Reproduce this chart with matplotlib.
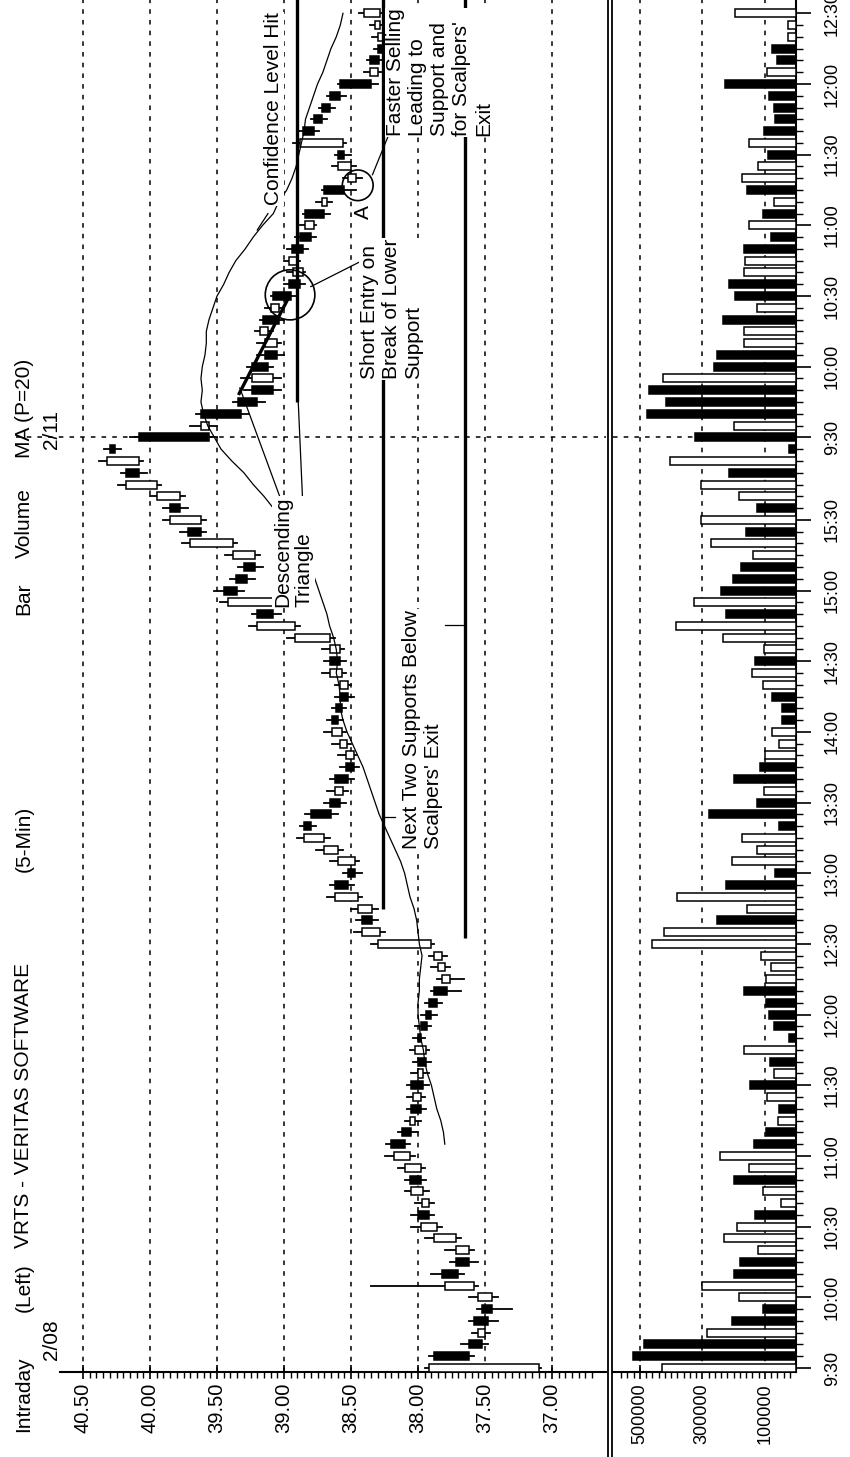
import matplotlib.pyplot as plt
from matplotlib.lines import Line2D
from matplotlib.patches import Rectangle, Ellipse

plt.rcParams['font.family'] = ['Liberation Sans Narrow', 'Liberation Sans', 'DejaVu Sans']

# VRTS 5-min bars: 2/08 (79 bars) then 2/11 (37 bars); H = up (hollow), F = down (filled)
direction = ("HFFHFFHHFF" "HHHFHHFHHF" "FHFHFHFHFF" "FFFHHHHHFH" "HFFHHHFFFH"
             "FFHHHFFFHH" "FHHHFHFFFH" "HFHFHHFHF"
             "FHFFFHFFHH" "FHFFHHFFHF" "HFHHFHFFFF" "FHFFHHH")

volume_k = [428, 521, 487, 284, 205, 107, 184, 300, 200, 179,
            123, 230, 189, 130, 48, 107, 200, 152, 243, 136,
            96, 59, 54, 93, 147, 70, 83, 168, 21, 70,
            86, 96, 168, 96, 80, 112, 462, 423, 254, 157,
            380, 223, 66, 206, 125, 173, 56, 280, 125, 104,
            200, 114, 98, 56, 77, 46, 46, 77, 107, 141,
            130, 104, 233, 385, 225, 326, 241, 201, 177, 139,
            273, 160, 305, 126, 182, 305, 214, 403, 21,
            324, 198, 476, 415, 471, 425, 264, 254, 168, 168,
            235, 126, 195, 214, 166, 163, 168, 80, 150, 107,
            70, 157, 173, 123, 91, 152, 104, 66, 72, 88,
            227, 93, 61, 77, 27, 27, 195]

opens = [37.10, 37.88, 37.62, 37.50, 37.58, 37.52, 37.45, 37.58, 37.82, 37.72,
         37.62, 37.72, 37.86, 38.00, 37.92, 37.96, 38.06, 37.98, 38.06, 38.20,
         38.12, 38.02, 38.05, 37.98, 38.05, 37.96, 38.00, 37.94, 38.00, 37.98,
         37.94, 37.92, 37.88, 37.76, 37.80, 37.82, 37.90, 38.28, 38.42, 38.34,
         38.45, 38.62, 38.52, 38.47, 38.60, 38.70, 38.85, 38.80, 38.66, 38.56,
         38.62, 38.54, 38.48, 38.53, 38.57, 38.64, 38.61, 38.58, 38.52, 38.57,
         38.66, 38.58, 38.66, 38.92, 39.20, 39.08, 39.45, 39.36, 39.30, 39.22,
         39.38, 39.72, 39.62, 39.85, 39.78, 39.95, 40.18, 40.08, 40.30,
         40.08, 39.56, 39.62, 39.34, 39.24, 39.08, 39.24, 39.14, 39.05, 39.12,
         39.16, 39.04, 39.08, 38.96, 38.86, 38.90, 38.94, 38.88, 38.78, 38.84,
         38.68, 38.70, 38.46, 38.50, 38.60, 38.56, 38.86, 38.78, 38.72, 38.66,
         38.58, 38.30, 38.36, 38.30, 38.26, 38.28, 38.28]
highs = [37.95, 37.92, 37.68, 37.60, 37.62, 37.56, 37.62, 38.35, 37.90, 37.76,
         37.80, 37.95, 38.05, 38.05, 38.02, 38.10, 38.10, 38.15, 38.25, 38.24,
         38.15, 38.10, 38.08, 38.08, 38.08, 38.05, 38.04, 38.06, 38.04, 38.02,
         37.98, 37.95, 37.90, 37.86, 37.90, 37.92, 38.35, 38.48, 38.46, 38.50,
         38.68, 38.66, 38.56, 38.66, 38.76, 38.90, 38.88, 38.84, 38.70, 38.68,
         38.66, 38.58, 38.60, 38.64, 38.70, 38.68, 38.64, 38.62, 38.62, 38.72,
         38.70, 38.72, 38.98, 39.26, 39.24, 39.48, 39.52, 39.40, 39.34, 39.44,
         39.76, 39.78, 39.90, 39.90, 40.00, 40.24, 40.22, 40.38, 40.34,
         40.15, 39.70, 39.66, 39.38, 39.30, 39.32, 39.28, 39.20, 39.20, 39.22,
         39.18, 39.14, 39.10, 39.00, 38.98, 39.00, 38.98, 38.92, 38.88, 38.86,
         38.76, 38.72, 38.56, 38.64, 38.62, 38.93, 38.90, 38.80, 38.74, 38.68,
         38.60, 38.40, 38.38, 38.33, 38.34, 38.36, 38.44]
lows = [37.08, 37.58, 37.48, 37.46, 37.40, 37.30, 37.40, 37.55, 37.66, 37.55,
        37.58, 37.68, 37.82, 37.88, 37.88, 37.92, 37.94, 37.95, 38.02, 38.06,
        38.00, 37.98, 37.94, 37.95, 37.92, 37.92, 37.90, 37.92, 37.95, 37.90,
        37.86, 37.82, 37.68, 37.66, 37.76, 37.78, 37.88, 38.25, 38.30, 38.30,
        38.42, 38.48, 38.42, 38.44, 38.56, 38.66, 38.76, 38.60, 38.54, 38.52,
        38.48, 38.44, 38.46, 38.50, 38.54, 38.56, 38.54, 38.48, 38.50, 38.54,
        38.54, 38.55, 38.62, 38.88, 39.02, 39.05, 39.30, 39.22, 39.16, 39.18,
        39.35, 39.58, 39.58, 39.72, 39.74, 39.92, 40.02, 40.05, 40.22,
        39.50, 39.50, 39.26, 39.14, 39.02, 39.02, 39.08, 39.00, 39.02, 39.08,
        39.00, 39.00, 38.90, 38.84, 38.84, 38.88, 38.82, 38.76, 38.76, 38.66,
        38.64, 38.46, 38.42, 38.46, 38.50, 38.54, 38.74, 38.68, 38.62, 38.54,
        38.30, 38.27, 38.25, 38.22, 38.24, 38.26, 38.26]
closes = [37.92, 37.62, 37.52, 37.55, 37.48, 37.45, 37.55, 37.80, 37.70, 37.62,
          37.72, 37.88, 37.98, 37.92, 37.97, 38.05, 37.98, 38.10, 38.18, 38.10,
          38.05, 38.06, 37.98, 38.04, 37.96, 38.00, 37.94, 38.02, 37.98, 37.93,
          37.90, 37.86, 37.78, 37.82, 37.85, 37.88, 38.30, 38.42, 38.34, 38.45,
          38.62, 38.52, 38.47, 38.60, 38.70, 38.85, 38.80, 38.65, 38.58, 38.62,
          38.52, 38.48, 38.54, 38.58, 38.64, 38.60, 38.57, 38.52, 38.58, 38.66,
          38.58, 38.66, 38.92, 39.20, 39.08, 39.42, 39.35, 39.28, 39.22, 39.38,
          39.70, 39.62, 39.85, 39.78, 39.95, 40.18, 40.08, 40.32, 40.26,
          39.56, 39.62, 39.32, 39.20, 39.08, 39.24, 39.12, 39.05, 39.14, 39.18,
          39.04, 39.10, 38.95, 38.88, 38.93, 38.96, 38.86, 38.80, 38.84, 38.70,
          38.72, 38.55, 38.52, 38.60, 38.55, 38.88, 38.78, 38.72, 38.66, 38.58,
          38.35, 38.36, 38.29, 38.27, 38.30, 38.32, 38.40]

# MA (P=20) as drawn, from bar 19 on
ma_start = 19
ma_values = [37.80, 37.81, 37.83, 37.86, 37.88, 37.90, 37.93, 37.95, 37.96, 37.98,
             37.99, 38.00, 38.00, 37.99, 37.99, 37.98, 37.97, 37.99, 38.00, 38.01,
             38.03, 38.06, 38.08, 38.10, 38.13, 38.17, 38.21, 38.25, 38.29, 38.32,
             38.35, 38.38, 38.41, 38.45, 38.49, 38.53, 38.56, 38.58, 38.58, 38.59,
             38.61, 38.60, 38.61, 38.63, 38.66, 38.68, 38.71, 38.74, 38.77, 38.80,
             38.84, 38.90, 38.96, 39.02, 39.08, 39.15, 39.23, 39.30, 39.39, 39.47,
             39.52, 39.57, 39.60, 39.62, 39.61, 39.62, 39.61, 39.59, 39.58, 39.58,
             39.56, 39.53, 39.50, 39.45, 39.41, 39.36, 39.29, 39.23, 39.16, 39.08,
             39.04, 38.98, 38.94, 38.91, 38.89, 38.87, 38.85, 38.84, 38.81, 38.78,
             38.75, 38.71, 38.68, 38.65, 38.61, 38.58, 38.56]

# drawn support / trend lines: (price_start, bar_start, price_end, bar_end)
lower_support = (38.90, 82, 38.90, 116.2)
triangle_top = (39.34, 82.6, 38.96, 91.0)
support_1 = (38.26, 39, 38.26, 116.2)
support_2 = (37.65, 36.5, 37.65, 116.2)

price_ticks = [40.5, 40.0, 39.5, 39.0, 38.5, 38.0, 37.5, 37.0]
vol_ticks = [500000, 300000, 100000]
time_labels = ["9:30", "10:00", "10:30", "11:00", "11:30", "12:00", "12:30", "13:00",
               "13:30", "14:00", "14:30", "15:00", "15:30",
               "9:30", "10:00", "10:30", "11:00", "11:30", "12:00", "12:30"]
n_day1 = 79

W, H = 850, 1457


def fx(x):
    return x / W


def fy(y):
    return 1 - y / H


fig = plt.figure(figsize=(8.5, 14.57), dpi=100)
ax = fig.add_axes([fx(60), fy(1372), (606 - 60) / W, 1372 / H])
axv = fig.add_axes([fx(613), fy(1372), (796 - 613) / W, 1372 / H])

ax.set_xlim(40.672, 36.597)
ax.set_ylim(-0.34, 116.13)
axv.set_xlim(585600, 0)
axv.set_ylim(-0.34, 116.13)

dash = (0, (3, 4))
for p in price_ticks:
    ax.axvline(p, color="k", lw=1.1, ls=dash, zorder=0)
for v in vol_ticks:
    axv.axvline(v, color="k", lw=1.1, ls=dash, zorder=0)
ax.plot([41.0, 36.6], [n_day1, n_day1], color="k", lw=1.1, ls=dash, clip_on=False, zorder=0)
axv.axhline(n_day1, color="k", lw=1.1, ls=dash, zorder=0)

# candles and volume bars
for i, (o, h, l, c, d, v) in enumerate(zip(opens, highs, lows, closes, direction, volume_k)):
    fc = "white" if d == "H" else "black"
    ax.plot([l, h], [i, i], color="k", lw=1.3, zorder=2)
    ax.add_patch(Rectangle((min(o, c), i - 0.34), abs(c - o), 0.68,
                           facecolor=fc, edgecolor="k", lw=1.1, zorder=3))
    axv.add_patch(Rectangle((0, i - 0.34), v * 1000, 0.68,
                            facecolor=fc, edgecolor="k", lw=1.1, zorder=3))

# moving average
ax.plot(ma_values, range(ma_start, ma_start + len(ma_values)), color="k", lw=0.9, zorder=4)

# thick support and trend lines
for p0, b0, p1, b1 in (lower_support, triangle_top, support_1, support_2):
    ax.plot([p0, p1], [b0, b1], color="k", lw=2.4, solid_capstyle="butt", zorder=5)

# circles
ax.add_patch(Ellipse((38.955, 91.1), 0.37, 4.25, fill=False, edgecolor="k", lw=1.2, zorder=6))
ax.add_patch(Ellipse((38.45, 100.4), 0.23, 2.6, fill=False, edgecolor="k", lw=1.2, zorder=6))

# thin leader lines
leaders = [((39.01, 73.3), (39.33, 83.2)),
           ((38.86, 73.3), (38.90, 83.6)),
           ((38.40, 94.1), (38.80, 91.8)),
           ((39.12, 98.0), (39.20, 96.6)),
           ((38.34, 101.3), (38.15, 106.6)),
           ((38.17, 46.8), (38.26, 46.8)),
           ((37.80, 63.1), (37.65, 63.1))]
for (p0, b0), (p1, b1) in leaders:
    ax.plot([p0, p1], [b0, b1], color="k", lw=0.9, zorder=5)

# axes styling
for a in (ax, axv):
    for s in ("top", "left", "right"):
        a.spines[s].set_visible(False)
    a.spines["bottom"].set_linewidth(1.5)
    a.tick_params(axis="x", which="major", direction="inout", length=10, width=1.2, pad=3)
    a.tick_params(axis="x", which="minor", direction="out", length=4, width=1)

ax.set_yticks([])
ax.set_xticks(price_ticks)
ax.set_xticklabels([f"{p:.2f}" for p in price_ticks], rotation=90, fontsize=14.5)
ax.set_xticks([40.5 - 0.05 * k for k in range(77)], minor=True)

axv.set_xticks(vol_ticks)
axv.set_xticklabels([str(v) for v in vol_ticks], rotation=90, fontsize=13)
axv.set_xticks(list(range(20000, 580000, 20000)), minor=True)

axv.spines["right"].set_visible(True)
axv.spines["right"].set_linewidth(1.5)
axv.yaxis.tick_right()
tick_idx = [6 * k for k in range(13)] + [n_day1 + 6 * k for k in range(7)]
axv.set_yticks(tick_idx)
axv.set_yticklabels(time_labels, rotation=90, fontsize=13, va="center")
axv.set_yticks(range(len(volume_k)), minor=True)
axv.tick_params(axis="y", which="major", direction="out", length=11, width=1.2, pad=9)
axv.tick_params(axis="y", which="minor", direction="out", length=5, width=1)

# double separator between panes
for x in (607.5, 611.5):
    fig.add_artist(Line2D([fx(x), fx(x)], [fy(1457), fy(0)], color="k", lw=1.3))

# header
hdr = dict(rotation=90, ha="center", va="bottom", fontsize=15)
fig.text(fx(24), fy(1432), "Intraday", **hdr)
fig.text(fx(51), fy(1360), "2/08", **hdr)
fig.text(fx(24), fy(1312), "(Left)", **hdr)
fig.text(fx(24), fy(1248), "VRTS - VERITAS SOFTWARE", **hdr)
fig.text(fx(24), fy(872), "(5-Min)", **hdr)
fig.text(fx(24), fy(615), "Bar", **hdr)
fig.text(fx(24), fy(558), "Volume", **hdr)
fig.text(fx(24), fy(458), "MA (P=20)", **hdr)
fig.text(fx(51), fy(449), "2/11", **hdr)

# annotations
ann = dict(rotation=90, ha="center", va="center", fontsize=15, multialignment="left",
           zorder=7, bbox=dict(facecolor="white", edgecolor="none", pad=0.5))
ax.text(39.075, 106.9, "Confidence Level Hit", **ann)
ax.text(38.93, 69.3, "Descending\nTriangle", **ann)
ax.text(38.20, 89.9, "Short Entry on\nBreak of Lower\nSupport", **ann)
ax.text(37.84, 110.0, "Faster Selling\nLeading to\nSupport and\nfor Scalpers'\nExit", **ann)
ax.text(37.97, 54.2, "Next Two Supports Below\nScalpers' Exit", **ann)
ax.text(38.41, 98.1, "A", **ann)

fig.savefig("out.png", dpi=100)
